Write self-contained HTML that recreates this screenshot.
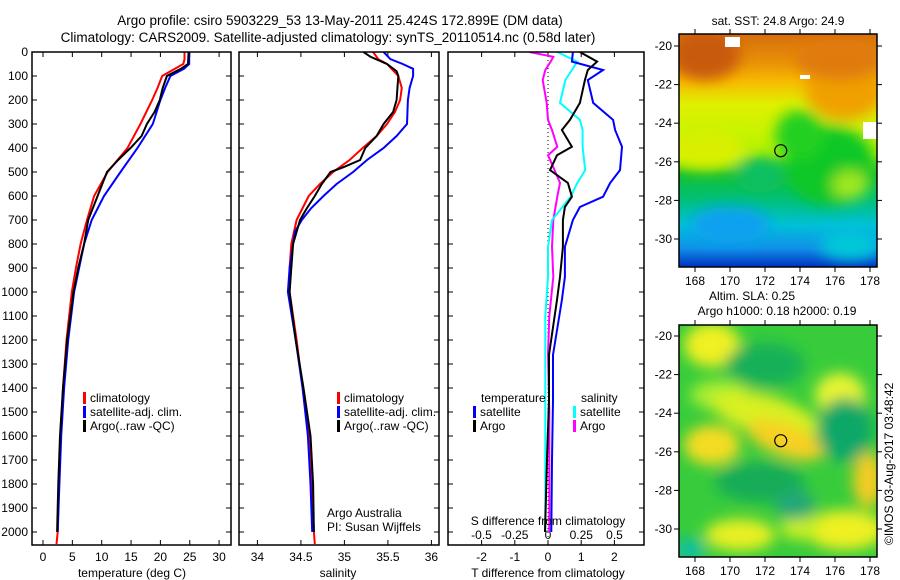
<!DOCTYPE html>
<html><head><meta charset="utf-8">
<style>
html,body{margin:0;padding:0;background:#fff;}
svg{display:block;font-family:"Liberation Sans",sans-serif;}
text{font-size:12px;fill:#000;}
</style></head>
<body>
<svg id="fig" width="900" height="580" viewBox="0 0 900 580" xmlns="http://www.w3.org/2000/svg">
<defs>
  <clipPath id="c1"><rect x="32" y="52" width="199" height="493"/></clipPath>
  <clipPath id="c2"><rect x="239" y="52" width="200" height="493"/></clipPath>
  <clipPath id="c3"><rect x="448" y="52" width="196" height="493"/></clipPath>
  <clipPath id="m1"><rect x="679" y="34" width="198" height="233"/></clipPath>
  <clipPath id="m2"><rect x="679" y="325" width="198" height="232"/></clipPath>
  <filter id="bl" x="-50%" y="-50%" width="200%" height="200%"><feGaussianBlur stdDeviation="7"/></filter>
  <linearGradient id="sstg" x1="0" y1="0" x2="0" y2="1">
    <stop offset="0" stop-color="#d66e0c"/>
    <stop offset="0.12" stop-color="#e89008"/>
    <stop offset="0.2" stop-color="#f8b800"/>
    <stop offset="0.3" stop-color="#e0f000"/>
    <stop offset="0.42" stop-color="#c8f400"/>
    <stop offset="0.52" stop-color="#b0f000"/>
    <stop offset="0.6" stop-color="#10c030"/>
    <stop offset="0.72" stop-color="#00c080"/>
    <stop offset="0.82" stop-color="#00c0d8"/>
    <stop offset="0.92" stop-color="#1090e8"/>
    <stop offset="1" stop-color="#0030c0"/>
  </linearGradient>
</defs>
<g id="titles">
  <text x="340" y="25" text-anchor="middle" style="font-size:13.5px">Argo profile: csiro 5903229_53 13-May-2011 25.424S 172.899E (DM data)</text>
  <text x="328" y="42" text-anchor="middle" style="font-size:13.5px">Climatology: CARS2009. Satellite-adjusted climatology: synTS_20110514.nc (0.58d later)</text>
</g>
<g id="p1"></g>
<g id="p2"></g>
<g id="p3"></g>
<g id="maps"></g>
<text transform="translate(893,545) rotate(-90)" style="font-size:12px">©IMOS 03-Aug-2017 03:48:42</text>
</svg>
<script>
// ---------- data ----------
const tempClimDepth = [0,30,50,100,150,200,300,400,500,600,700,800,900,1000,1200,1400,1600,1800,2000,2050];
const tempClim =      [24.1,24.1,23.9,20.3,19.5,18.6,16.6,14.4,11.0,8.7,7.5,6.4,5.6,4.9,4.0,3.4,3.0,2.7,2.5,2.3];
const tempSatDepth =  [0,50,70,100,150,200,300,400,500,600,700,800,1000,1200,1400,1600,1800,2000];
const tempSat =       [24.9,24.9,24.0,21.7,20.8,20.0,18.7,16.1,13.2,10.4,8.3,7.0,5.3,4.3,3.6,3.1,2.8,2.5];
const tempArgoDepth = [0,50,70,100,150,200,250,300,350,400,450,500,600,700,800,900,1000,1200,1400,1600,1800,2000];
const tempArgo =      [24.8,24.7,23.5,21.1,20.4,19.9,19.0,17.7,16.8,14.9,12.8,10.9,9.3,7.7,7.0,6.0,5.2,4.1,3.4,2.9,2.6,2.4];

const salClimDepth = [0,30,50,100,150,200,250,300,350,400,450,500,550,600,700,800,900,1000,1200,1400,1600,1800,2000,2050];
const salClim =      [35.33,35.39,35.49,35.62,35.66,35.64,35.58,35.49,35.37,35.21,35.06,34.87,34.72,34.59,34.45,34.39,34.37,34.37,34.45,34.52,34.59,34.62,34.65,34.66];
const salSatDepth =  [0,30,50,70,100,150,200,300,350,400,450,500,550,600,650,700,750,800,900,1000,1200,1400,1600,1800,2000];
const salSat =       [35.45,35.53,35.67,35.79,35.79,35.75,35.73,35.72,35.60,35.45,35.26,35.10,34.91,34.76,34.62,34.51,34.43,34.41,34.37,34.35,34.44,34.52,34.58,34.61,34.63];
const salArgoDepth = [0,20,50,80,100,200,250,300,350,400,450,480,500,550,600,650,700,800,900,1000,1200,1400,1600,1800,2000];
const salArgo =      [35.22,35.30,35.49,35.60,35.62,35.60,35.56,35.45,35.37,35.24,35.18,34.99,34.84,34.74,34.66,34.57,34.49,34.41,34.39,34.37,34.44,34.53,34.61,34.64,34.65];

const dTSatDepth =  [0,40,75,117,212,283,325,395,492,546,603,646,700,812,937,1033,1262,1450,1700,2000];
const dTSat =       [0.75,0.72,1.66,1.20,1.36,1.96,2.02,2.23,2.17,1.87,1.66,0.96,0.75,0.51,0.51,0.42,0.15,0.15,0.12,0.10];
const dTArgoDepth = [0,40,75,117,212,283,325,395,430,492,546,603,646,700,812,937,1033,1262,1450,1700,2000];
const dTArgo =      [0.96,1.48,1.20,1.11,0.96,0.66,0.42,0.72,0.27,0.06,0.60,0.72,0.51,0.45,0.45,0.36,0.27,0.03,0.03,-0.03,-0.09];
const dSSatDepth =  [0,40,75,117,212,283,325,395,492,546,603,700,812,937,1100,1262,1500,1800,2000];
const dSSat =       [0.07,0.22,0.18,0.13,0.09,0.24,0.26,0.26,0.28,0.22,0.17,0.03,0.00,0.00,-0.02,-0.02,-0.02,-0.02,-0.02];
const dSArgoDepth = [0,20,40,75,117,212,283,325,395,430,492,546,603,700,812,937,1100,1262,1500,1800,2000];
const dSArgo =      [-0.14,0.04,0.02,-0.02,-0.04,-0.01,0.00,0.03,0.07,0.00,0.05,0.09,0.07,0.04,0.03,0.04,0.01,0.00,0.01,0.01,0.01];

const depthTicks = [0,100,200,300,400,500,600,700,800,900,1000,1100,1200,1300,1400,1500,1600,1700,1800,1900,2000];
const tempTicks = [0,5,10,15,20,25,30];
const salTicks = [34,34.5,35,35.5,36];
const dTTicks = [-2,-1,0,1,2];
const dSTicks = [-0.5,-0.25,0,0.25,0.5];
const dSTickLabels = ['-0.5','-0.25','0','0.25','0.5'];
const lonTicks = [168,170,172,174,176,178];
const latTicks = [-20,-22,-24,-26,-28,-30];

// ---------- helpers ----------
const NS='http://www.w3.org/2000/svg';
function mk(tag,attrs,parent){const e=document.createElementNS(NS,tag);for(const k in attrs)e.setAttribute(k,attrs[k]);parent.appendChild(e);return e;}
const yD = d => 52 + d*0.24;
const xT = t => 43 + t*5.87;
const xS = s => 257.4 + (s-34)*87;
const xDT = t => 548 + t*33.2;
const xDS = s => 548 + s*133;

function line(parent, depths, vals, xf, color, name, clip, w){
  const pts = depths.map((d,i)=>xf(vals[i]).toFixed(1)+','+yD(d).toFixed(1)).join(' ');
  const p = mk('polyline',{points:pts,fill:'none',stroke:color,'stroke-width':w||2,'clip-path':'url(#'+clip+')'},parent);
  
  
}
function box(parent,x,y,w,h,name){
  const r=mk('rect',{x:x,y:y,width:w,height:h,fill:'none',stroke:'#000','stroke-width':1.5},parent);
  
  
}
function txt(parent,x,y,s,anchor,name,size){
  const t=mk('text',{x:x,y:y,'text-anchor':anchor||'start'},parent);
  if(size)t.setAttribute('style','font-size:'+size+'px');
  t.textContent=s;
  
  
  return t;
}
function depthAxis(parent,x0,x1,labels){
  depthTicks.forEach(d=>{
    const y=yD(d);
    mk('line',{x1:x0,y1:y,x2:x0+5,y2:y,stroke:'#000'},parent);
    mk('line',{x1:x1-5,y1:y,x2:x1,y2:y,stroke:'#000'},parent);
    if(labels) txt(parent,28,y+4,String(d),'end','depth-tick-label');
  });
}
function xAxis(parent,ticks,xf,labels,top,ylab){
  ticks.forEach((t,i)=>{
    const x=xf(t);
    mk('line',{x1:x,y1:545,x2:x,y2:540,stroke:'#000'},parent);
    if(top) mk('line',{x1:x,y1:52,x2:x,y2:57,stroke:'#000'},parent);
    txt(parent,x,ylab,labels?labels[i]:String(t),'middle','x-tick-label');
  });
}
function legendEntry(parent,x,y,color,label){
  const r=mk('rect',{x:x,y:y-10,width:3,height:12,fill:color},parent);
  
  
  txt(parent,x+7,y,label,'start','legend-entry');
}

// ---------- panel 1 ----------
const p1=document.getElementById('p1');
depthAxis(p1,32,231,true);
xAxis(p1,tempTicks,xT,null,true,561);
line(p1,tempClimDepth,tempClim,xT,'#ff0000','temp-climatology-line','c1');
line(p1,tempSatDepth,tempSat,xT,'#0000ff','temp-satellite-line','c1');
line(p1,tempArgoDepth,tempArgo,xT,'#000000','temp-argo-line','c1');
box(p1,32,52,199,493,'temperature-axes-frame');
txt(p1,132,577,'temperature (deg C)','middle','x-axis-title-temperature');
legendEntry(p1,83,402,'#ff0000','climatology');
legendEntry(p1,83,416,'#0000ff','satellite-adj. clim.');
legendEntry(p1,83,430,'#000000','Argo(..raw -QC)');

// ---------- panel 2 ----------
const p2=document.getElementById('p2');
depthAxis(p2,239,439,false);
xAxis(p2,salTicks,xS,null,true,561);
line(p2,salClimDepth,salClim,xS,'#ff0000','sal-climatology-line','c2');
line(p2,salSatDepth,salSat,xS,'#0000ff','sal-satellite-line','c2');
line(p2,salArgoDepth,salArgo,xS,'#000000','sal-argo-line','c2');
box(p2,239,52,200,493,'salinity-axes-frame');
txt(p2,338,577,'salinity','middle','x-axis-title-salinity');
legendEntry(p2,337,402,'#ff0000','climatology');
legendEntry(p2,337,416,'#0000ff','satellite-adj. clim.');
legendEntry(p2,337,430,'#000000','Argo(..raw -QC)');
txt(p2,327,517,'Argo Australia','start','credit-argo-australia');
txt(p2,327,531,'PI: Susan Wijffels','start','credit-pi');

// ---------- panel 3 ----------
const p3=document.getElementById('p3');
depthAxis(p3,448,644,false);
dTTicks.forEach(t=>{const x=xDT(t);mk('line',{x1:x,y1:545,x2:x,y2:540,stroke:'#000'},p3);mk('line',{x1:x,y1:52,x2:x,y2:57,stroke:'#000'},p3);txt(p3,x,561,String(t),'middle','t-diff-tick-label');});
dSTicks.forEach((s,i)=>{txt(p3,xDS(s),539,dSTickLabels[i],'middle','s-diff-tick-label');});
const zl=mk('line',{x1:548,y1:52,x2:548,y2:545,stroke:'#000','stroke-dasharray':'1,3'},p3);


line(p3,dSArgoDepth,dSArgo,xDS,'#ff00ff','sal-diff-argo-line','c3');
line(p3,dSSatDepth,dSSat,xDS,'#00ffff','sal-diff-satellite-line','c3');
line(p3,dTSatDepth,dTSat,xDT,'#0000ff','temp-diff-satellite-line','c3');
line(p3,dTArgoDepth,dTArgo,xDT,'#000000','temp-diff-argo-line','c3');
box(p3,448,52,196,493,'difference-axes-frame');
txt(p3,548,525,'S difference from climatology','middle','s-diff-axis-title');
txt(p3,548,577,'T difference from climatology','middle','t-diff-axis-title');
txt(p3,481,402,'temperature','start','legend-temperature-heading');
txt(p3,581,402,'salinity','start','legend-salinity-heading');
legendEntry(p3,473,416,'#0000ff','satellite');
legendEntry(p3,473,430,'#000000','Argo');
legendEntry(p3,573,416,'#00ffff','satellite');
legendEntry(p3,573,430,'#ff00ff','Argo');

// ---------- maps ----------
const maps=document.getElementById('maps');
function mapAxes(parent,y0,y1,lat20,lat30,lonY){
  const lx=lon=>695+(lon-168)*17.5;
  const ly=lat=>lat20+(-20-lat)*(lat30-lat20)/10;
  lonTicks.forEach(l=>{const x=lx(l);mk('line',{x1:x,y1:y1,x2:x,y2:y1+5,stroke:'#000'},parent);mk('line',{x1:x,y1:y0,x2:x,y2:y0-5,stroke:'#000'},parent);txt(parent,x,lonY,String(l),'middle','lon-tick-label');});
  latTicks.forEach(l=>{const y=ly(l);mk('line',{x1:674,y1:y,x2:679,y2:y,stroke:'#000'},parent);mk('line',{x1:877,y1:y,x2:882,y2:y,stroke:'#000'},parent);txt(parent,672,y+4,String(l),'end','lat-tick-label');});
}
// map 1 SST
const g1=mk('g',{'clip-path':'url(#m1)'},maps);


mk('rect',{x:679,y:34,width:198,height:233,fill:'url(#sstg)'},g1);
const b1=mk('g',{filter:'url(#bl)'},g1);
mk('ellipse',{cx:845,cy:90,rx:40,ry:30,fill:'#f0a000'},b1);
mk('ellipse',{cx:840,cy:60,rx:45,ry:20,fill:'#e07a10'},b1);
mk('ellipse',{cx:705,cy:55,rx:35,ry:25,fill:'#c85a08'},b1);
mk('ellipse',{cx:830,cy:165,rx:45,ry:40,fill:'#10c828'},b1);
mk('ellipse',{cx:800,cy:135,rx:25,ry:25,fill:'#20d020'},b1);
mk('ellipse',{cx:850,cy:185,rx:18,ry:14,fill:'#a0e820'},b1);
mk('ellipse',{cx:760,cy:175,rx:25,ry:18,fill:'#10c060'},b1);
mk('ellipse',{cx:705,cy:150,rx:40,ry:20,fill:'#d8f000'},b1);
mk('ellipse',{cx:730,cy:225,rx:40,ry:18,fill:'#10a0f0'},b1);
mk('ellipse',{cx:850,cy:245,rx:30,ry:15,fill:'#00c8d8'},b1);
mk('rect',{x:725,y:37,width:15,height:10,fill:'#fff'},g1);
mk('rect',{x:863,y:122,width:14,height:17,fill:'#fff'},g1);
mk('rect',{x:800,y:75,width:10,height:4,fill:'#fff'},g1);
box(maps,679,34,198,233,'sst-map-frame');
mapAxes(maps,34,267,46,239,285);
const ax1={lx:lon=>695+(lon-168)*17.5, ly:lat=>46+(-20-lat)*19.3};
const c1=mk('circle',{cx:ax1.lx(172.899),cy:ax1.ly(-25.424),r:6,fill:'none',stroke:'#000','stroke-width':1.2},maps);


txt(maps,778,25,'sat. SST: 24.8 Argo: 24.9','middle','sst-map-title');

// map 2 SLA
const g2=mk('g',{'clip-path':'url(#m2)'},maps);


mk('rect',{x:679,y:325,width:198,height:232,fill:'#38cc3c'},g2);
const b2=mk('g',{filter:'url(#bl)'},g2);
mk('ellipse',{cx:712,cy:345,rx:28,ry:22,fill:'#f0f020'},b2);
mk('ellipse',{cx:720,cy:395,rx:30,ry:15,fill:'#a8ee30'},b2);
mk('ellipse',{cx:765,cy:415,rx:55,ry:20,fill:'#d8f020',transform:'rotate(15 765 415)'},b2);
mk('ellipse',{cx:785,cy:440,rx:40,ry:16,fill:'#f8d020',transform:'rotate(20 785 440)'},b2);
mk('ellipse',{cx:712,cy:445,rx:28,ry:20,fill:'#f4dc20'},b2);
mk('ellipse',{cx:840,cy:395,rx:25,ry:22,fill:'#e8f430'},b2);
mk('ellipse',{cx:868,cy:480,rx:15,ry:28,fill:'#f4cc20'},b2);
mk('ellipse',{cx:845,cy:530,rx:40,ry:20,fill:'#eef020'},b2);
mk('ellipse',{cx:740,cy:535,rx:35,ry:16,fill:'#e8f020'},b2);
mk('ellipse',{cx:800,cy:528,rx:20,ry:12,fill:'#c8f020'},b2);
mk('ellipse',{cx:765,cy:365,rx:40,ry:22,fill:'#18b058'},b2);
mk('ellipse',{cx:845,cy:430,rx:28,ry:32,fill:'#10a868'},b2);
mk('ellipse',{cx:760,cy:482,rx:45,ry:20,fill:'#14ac58'},b2);
mk('ellipse',{cx:795,cy:505,rx:20,ry:15,fill:'#20a878'},b2);
mk('ellipse',{cx:690,cy:550,rx:15,ry:12,fill:'#10c0a0'},b2);
box(maps,679,325,198,232,'sla-map-frame');
mapAxes(maps,325,557,336,529,575);
const ax2={lx:lon=>695+(lon-168)*17.5, ly:lat=>336+(-20-lat)*19.3};
const c2=mk('circle',{cx:ax2.lx(172.899),cy:ax2.ly(-25.424),r:6,fill:'none',stroke:'#000','stroke-width':1.2},maps);


txt(maps,752,300,'Altim. SLA: 0.25','middle','sla-map-title');
txt(maps,777,315,'Argo h1000: 0.18 h2000: 0.19','middle','sla-map-subtitle');
</script>
</body></html>
